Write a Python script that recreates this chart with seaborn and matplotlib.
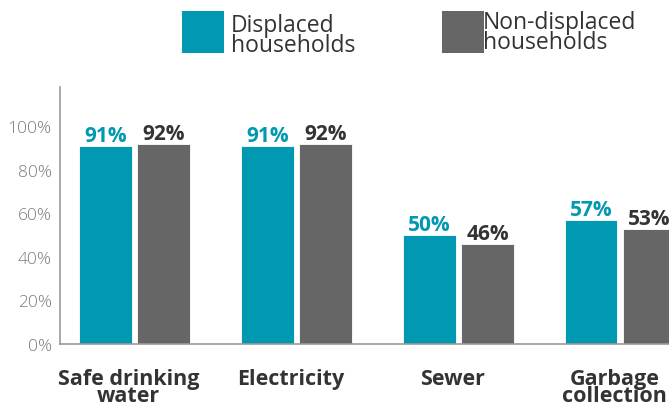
"""
plot.py — access to basic services, displaced vs non-displaced households.
Grouped bar chart, saved as out.png.
"""

import matplotlib
matplotlib.use("Agg")  # headless
import matplotlib.pyplot as plt
import matplotlib.transforms as mtransforms
from matplotlib.patches import Rectangle
import pandas as pd
import seaborn as sns

# ---------- data ----------
SERVICES = ["Safe drinking\nwater", "Electricity", "Sewer", "Garbage\ncollection"]
DISPLACED = [91, 91, 50, 57]
NON_DISPLACED = [92, 92, 46, 53]
GROUPS = ["Displaced\nhouseholds", "Non-displaced\nhouseholds"]
Y_TICKS = [0, 20, 40, 60, 80, 100]

TEAL = "#0099B1"
GREY = "#666666"
DARK = "#333333"
AXIS = "#9a9a9a"

sns.set_theme(style="white")
plt.rcParams["font.family"] = ["Open Sans", "DejaVu Sans"]

# long table for seaborn
df = pd.DataFrame({
    "service": SERVICES * 2,
    "group": [GROUPS[0]] * len(SERVICES) + [GROUPS[1]] * len(SERVICES),
    "pct": DISPLACED + NON_DISPLACED,
})

fig = plt.figure(figsize=(6.69, 4.06), dpi=100)
ax = fig.add_axes([60 / 669, 61 / 406, 609 / 669, 257 / 406])

sns.barplot(data=df, x="service", y="pct", hue="group", order=SERVICES,
            hue_order=GROUPS, palette=[TEAL, GREY], saturation=1,
            width=0.72, gap=0.1, edgecolor="white", linewidth=0.6,
            legend=False, ax=ax)

# value labels above each bar
label_colors = [TEAL, DARK]
for container, col in zip(ax.containers, label_colors):
    ax.bar_label(container, labels=[f"{v:.0f}%" for v in container.datavalues],
                 padding=0, color=col, fontsize=15, fontweight="bold")

ax.set_xlim(-0.46, 3.30)
ax.set_ylim(0, 118)
ax.set_yticks(Y_TICKS)
ax.set_yticklabels([f"{t}%" for t in Y_TICKS], color="#7a7a7a",
                   fontsize=12.5, fontweight="light")
ax.set_xlabel(""); ax.set_ylabel("")
ax.tick_params(axis="y", length=0, pad=6)
ax.tick_params(axis="x", length=0, pad=17)
# category labels sit a little left of the group centre in the original
shift = mtransforms.ScaledTranslation(-6 / 100, 0, fig.dpi_scale_trans)
for lab in ax.get_xticklabels():
    lab.set_fontsize(15.5)
    lab.set_fontweight("bold")
    lab.set_color(DARK)
    lab.set_linespacing(0.8)
    lab.set_transform(lab.get_transform() + shift)

# only left and bottom spines
for side in ["top", "right"]:
    ax.spines[side].set_visible(False)
for side in ["left", "bottom"]:
    ax.spines[side].set_color(AXIS)
    ax.spines[side].set_linewidth(1.2)

# ---------- legend (manual, at the top) ----------
W, H = 669, 406
for x0, col, txt, ty in [(182, TEAL, GROUPS[0], 36), (442, GREY, GROUPS[1], 33)]:
    fig.add_artist(Rectangle((x0 / W, 1 - 54 / H), 42 / W, 42 / H,
                             transform=fig.transFigure, color=col, lw=0))
    fig.text((x0 + 49 if col == TEAL else x0 + 41) / W, 1 - ty / H, txt,
             fontsize=16.5, color=DARK, va="center", ha="left", linespacing=0.75)

fig.savefig("out.png", dpi=100)
